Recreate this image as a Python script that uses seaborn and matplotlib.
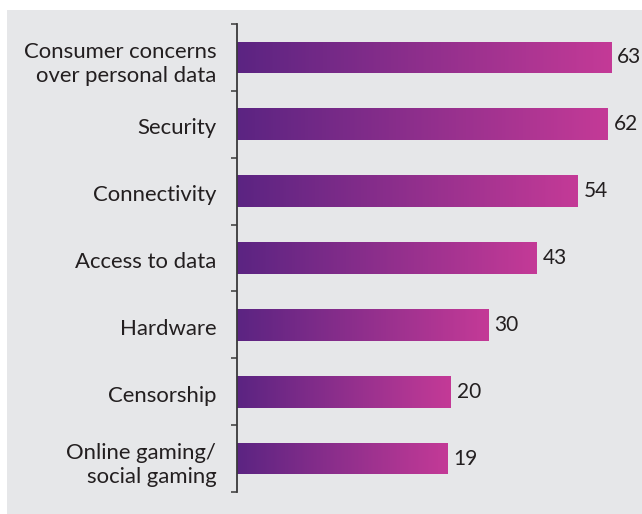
import numpy as np
import pandas as pd
import matplotlib
matplotlib.use("Agg")
import matplotlib.pyplot as plt
import matplotlib.transforms as mtransforms
from matplotlib.colors import LinearSegmentedColormap
from matplotlib.patches import Rectangle
import seaborn as sns

# Survey results: share of respondents naming each barrier
categories = [
    "Consumer concerns\nover personal data",
    "Security",
    "Connectivity",
    "Access to data",
    "Hardware",
    "Censorship",
    "Online gaming/\nsocial gaming",
]
values = [63, 62, 54, 43, 30, 20, 19]

# The value axis is truncated: bars start at this value, not at zero
AXIS_START = -37.35
AXIS_END = 71.3

DARK = "#5b2482"
MAGENTA = "#c43a97"
PANEL = "#e6e7e9"
TEXT = "#231f20"
FS = 15.9
FS_VALUE = 15.0

sns.set_theme(style="white")
plt.rcParams["font.family"] = ["Lato", "DejaVu Sans"]

W, H = 642, 514
fig = plt.figure(figsize=(W / 100, H / 100), dpi=100, facecolor="white")

# grey backdrop panel
fig.patches.append(Rectangle((7 / W, 0), 1 - 7 / W, 1 - 10 / H,
                             transform=fig.transFigure, facecolor=PANEL,
                             edgecolor="none", zorder=-10))

ax = fig.add_axes([237 / W, 22 / H, (W - 237) / W, (492 - 24) / H])
ax.set_facecolor("none")

df = pd.DataFrame({"category": categories, "value": values})
sns.barplot(data=df, x="value", y="category", orient="h", width=0.475,
            color=DARK, ax=ax, saturation=1)

cmap = LinearSegmentedColormap.from_list("bar_grad", [DARK, MAGENTA])
grad = np.linspace(0, 1, 256).reshape(1, -1)

for patch, v in zip(ax.patches, values):
    patch.set_x(AXIS_START)
    patch.set_width(v - AXIS_START)
    patch.set_facecolor("none")
    patch.set_edgecolor("none")
    y0 = patch.get_y()
    h = patch.get_height()
    im = ax.imshow(grad, cmap=cmap, aspect="auto", interpolation="bilinear",
                   extent=[AXIS_START, v, y0 + h, y0], zorder=2)
    im.set_clip_path(patch)
    ax.annotate(f"{v}", xy=(v, y0 + h / 2), xytext=(4.5, 0),
                textcoords="offset points", ha="left", va="center",
                fontsize=FS_VALUE, color=TEXT, zorder=3, annotation_clip=False)

n = len(categories)
ax.set_xlim(AXIS_START, AXIS_END)
ax.set_ylim(n - 0.5, -0.5)
ax.set_xlabel("")
ax.set_ylabel("")
ax.set_xticks([])

for side in ["top", "right", "bottom"]:
    ax.spines[side].set_visible(False)
ax.spines["left"].set_color("#3a3a3a")
ax.spines["left"].set_linewidth(1.3)

ax.set_yticks(range(n))
ax.set_yticklabels(categories, fontsize=FS, color=TEXT, linespacing=1.28)
ax.tick_params(axis="y", which="major", length=0, pad=15)
ax.set_yticks(np.arange(-0.5, n, 1), minor=True)
ax.tick_params(axis="y", which="minor", length=4.5, width=1.1,
               color="#3a3a3a", direction="out", left=True)
shift = mtransforms.ScaledTranslation(0, -1.5 / 72, fig.dpi_scale_trans)
for lbl in ax.get_yticklabels():
    lbl.set_horizontalalignment("right")
    lbl.set_multialignment("right")
    lbl.set_transform(lbl.get_transform() + shift)

fig.savefig("out.png", dpi=100, facecolor="white")
